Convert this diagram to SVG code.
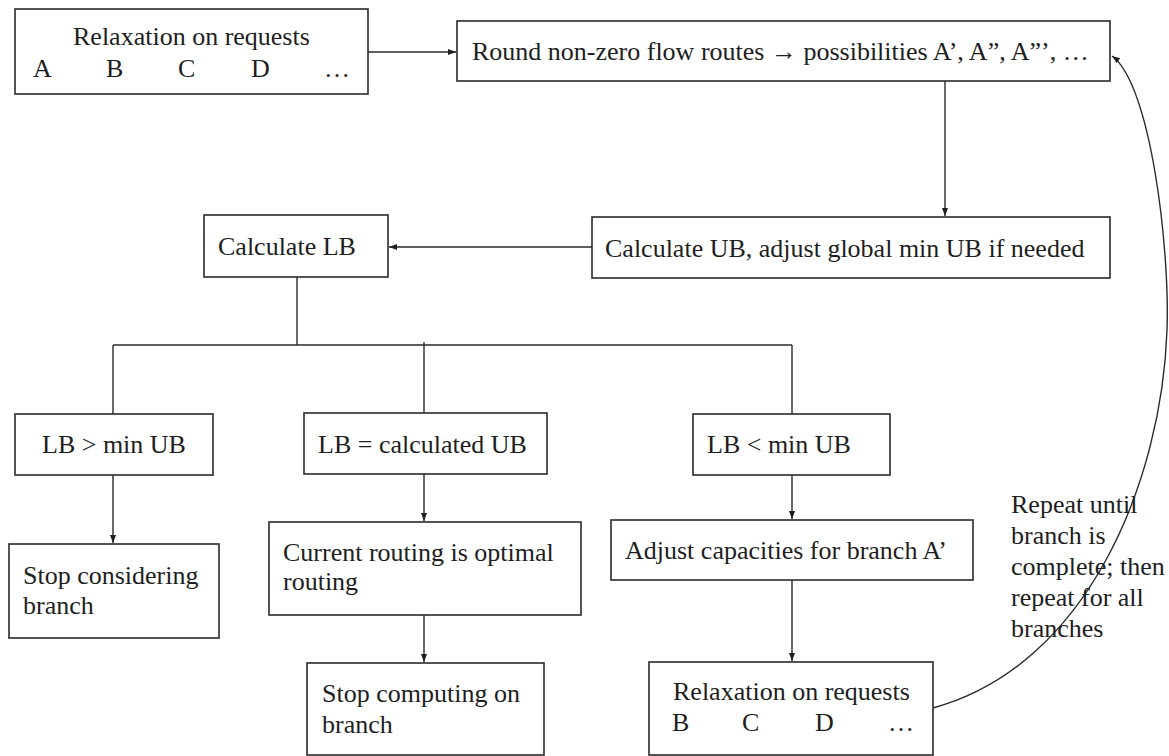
<svg xmlns="http://www.w3.org/2000/svg" width="1169" height="756" viewBox="0 0 1169 756">
<style>
.box{fill:#ffffff;stroke:#2a2a2a;stroke-width:1.6}
.t{font-family:"Liberation Serif","Times New Roman",serif;font-size:26px;fill:#1e1e1e}
.c{fill:none;stroke:#2a2a2a;stroke-width:1.4}
</style>
<defs>
<marker id="arr" markerUnits="userSpaceOnUse" markerWidth="9" markerHeight="7" refX="8" refY="3.5" orient="auto">
<path d="M0,0.5 L8,3.5 L0,6.5 z" fill="#1e1e1e"/>
</marker>
</defs>
<rect width="1169" height="756" fill="#ffffff"/>
<g id="connectors">
<line class="c" x1="368" y1="52" x2="456" y2="52" marker-end="url(#arr)"/>
<line class="c" x1="945" y1="81" x2="945" y2="216" marker-end="url(#arr)"/>
<line class="c" x1="592" y1="247" x2="389" y2="247" marker-end="url(#arr)"/>
<line class="c" x1="297" y1="277" x2="297" y2="345"/>
<line class="c" x1="113" y1="345" x2="792" y2="345"/>
<line class="c" x1="113" y1="345" x2="113" y2="414"/>
<line class="c" x1="424" y1="342" x2="424" y2="413"/>
<line class="c" x1="792" y1="345" x2="792" y2="414"/>
<line class="c" x1="113" y1="475" x2="113" y2="543" marker-end="url(#arr)"/>
<line class="c" x1="424" y1="474" x2="424" y2="521" marker-end="url(#arr)"/>
<line class="c" x1="424" y1="615" x2="424" y2="662" marker-end="url(#arr)"/>
<line class="c" x1="792" y1="475" x2="792" y2="519" marker-end="url(#arr)"/>
<line class="c" x1="792" y1="580" x2="792" y2="661" marker-end="url(#arr)"/>
<path class="c" d="M933,708 C1088,666 1162,480 1167,330 C1170,250 1151,84 1112,56" marker-end="url(#arr)"/>
</g>
<g id="n1">
<rect class="box" x="15" y="9" width="353" height="85"/>
<text class="t" x="73" y="45">Relaxation on requests</text>
<text class="t" x="33" y="77">A</text>
<text class="t" x="106" y="77">B</text>
<text class="t" x="178" y="77">C</text>
<text class="t" x="251" y="77">D</text>
<text class="t" x="324" y="77">…</text>
</g>
<g id="n2">
<rect class="box" x="457" y="21" width="653" height="60"/>
<text class="t" x="472" y="60">Round non-zero flow routes → possibilities A’, A”, A”’, …</text>
</g>
<g id="n3">
<rect class="box" x="592" y="217" width="518" height="61"/>
<text class="t" x="605" y="257">Calculate UB, adjust global min UB if needed</text>
</g>
<g id="n4">
<rect class="box" x="204" y="215" width="184" height="62"/>
<text class="t" x="218" y="255">Calculate LB</text>
</g>
<g id="n5">
<rect class="box" x="15" y="414" width="198" height="61"/>
<text class="t" x="42" y="453">LB &gt; min UB</text>
</g>
<g id="n6">
<rect class="box" x="304" y="413" width="243" height="61"/>
<text class="t" x="318" y="453">LB = calculated UB</text>
</g>
<g id="n7">
<rect class="box" x="693" y="414" width="197" height="61"/>
<text class="t" x="707" y="453">LB &lt; min UB</text>
</g>
<g id="n8">
<rect class="box" x="9" y="544" width="210" height="94"/>
<text class="t" x="23" y="584">Stop considering</text>
<text class="t" x="23" y="614">branch</text>
</g>
<g id="n9">
<rect class="box" x="269" y="522" width="312" height="93"/>
<text class="t" x="283" y="561">Current routing is optimal</text>
<text class="t" x="283" y="590">routing</text>
</g>
<g id="n10">
<rect class="box" x="307" y="663" width="237" height="92"/>
<text class="t" x="322" y="702">Stop computing on</text>
<text class="t" x="322" y="733">branch</text>
</g>
<g id="n11">
<rect class="box" x="611" y="520" width="362" height="60"/>
<text class="t" x="625" y="559">Adjust capacities for branch A’</text>
</g>
<g id="n12">
<rect class="box" x="649" y="662" width="284" height="93"/>
<text class="t" x="673" y="700">Relaxation on requests</text>
<text class="t" x="672" y="731">B</text>
<text class="t" x="742" y="731">C</text>
<text class="t" x="815" y="731">D</text>
<text class="t" x="888" y="731">…</text>
</g>
<g id="label">
<text class="t" x="1011" y="513">Repeat until</text>
<text class="t" x="1011" y="544">branch is</text>
<text class="t" x="1011" y="575">complete; then</text>
<text class="t" x="1011" y="606">repeat for all</text>
<text class="t" x="1011" y="637">branches</text>
</g>
</svg>
